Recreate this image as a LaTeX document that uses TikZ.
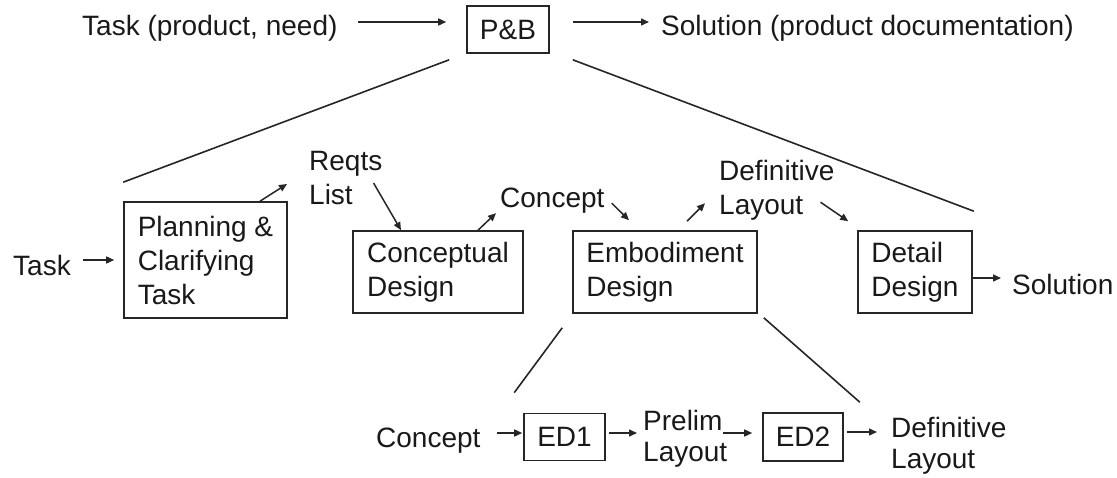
\documentclass[tikz,border=0pt]{standalone}
\usepackage{fontspec}
\setmainfont{Liberation Sans}
\usetikzlibrary{arrows.meta}
\begin{document}
\begin{tikzpicture}[x=1pt,y=-1pt,
  every node/.style={font=\fontsize{28pt}{34pt}\selectfont, text=black!90, inner sep=0pt},
  box/.style={draw=black!85, line width=1.6pt, align=left},
  txt/.style={align=left},
  bot/.style={font=\fontsize{28pt}{31pt}\selectfont},
  arr/.style={line width=1.5pt, draw=black!85, -{Triangle[length=8pt,width=7pt]}},
  ln/.style={line width=1.6pt, draw=black!85}]
\useasboundingbox (0,0) rectangle (1117,477);
% top level
\node[anchor=base west] (tTask) at (82,35) {Task (product, need)};
\node[box, minimum width=82pt, minimum height=47pt] (pb) at (508,29.5) {P\&B};
\node[anchor=base west] (tSol) at (661,35) {Solution (product documentation)};
% second level
\node[box, minimum width=163pt, minimum height=116pt] (plan) at (205.5,260) {Planning \&\\Clarifying\\Task};
\node[box, minimum width=170pt, minimum height=82pt] (concD) at (438,272) {Conceptual\\Design};
\node[box, minimum width=184pt, minimum height=82pt] (embD) at (665,272) {Embodiment\\Design};
\node[box, minimum width=114pt, minimum height=82pt] (detD) at (915,272) {Detail\\Design};
\node[anchor=base west] (tTask2) at (13,275) {Task};
\node[txt, anchor=north west] (reqts) at (309,151) {Reqts\\List};
\node[anchor=base west] (concept) at (500,207) {Concept};
\node[txt, anchor=north west] (defin) at (719,160) {Definitive\\Layout};
\node[anchor=base west] (tSol2) at (1012,294) {Solution};
% third level
\node[anchor=base west] (cBot) at (376,447) {Concept};
\node[box, minimum width=81pt, minimum height=47pt] (ed1) at (564.5,437) {ED1};
\node[txt, bot, anchor=north west] (prelim) at (643,410) {Prelim\\Layout};
\node[box, minimum width=80pt, minimum height=48pt] (ed2) at (803,437) {ED2};
\node[txt, bot, anchor=north west] (defB) at (891,417) {Definitive\\Layout};
% top connectors
\path ([yshift=7.5pt]pb.west) coordinate (pbin) ([yshift=7.5pt]pb.east) coordinate (pbout);
\draw[arr, shorten <=20pt, shorten >=20pt] (pbin -| tTask.east) -- (pbin);
\draw[arr, shorten <=23pt, shorten >=12pt] (pbout) -- (pbout -| tSol.west);
\draw[ln] ([xshift=-17pt,yshift=-6pt]pb.south west) -- ([yshift=19pt]plan.north west);
\draw[ln] ([xshift=23pt,yshift=-6pt]pb.south east) -- ([xshift=1pt,yshift=19pt]detD.north east);
% middle connectors
\draw[arr, shorten <=12pt, shorten >=9pt] (tTask2.east |- plan.west) -- (plan.west);
\draw[arr] ([xshift=54.5pt]plan.north) -- ([xshift=-22pt,yshift=-6pt]reqts.west);
\draw[arr] ([xshift=-9pt,yshift=-5pt]reqts.east) -- ([xshift=-37pt]concD.north);
\draw[arr] ([xshift=40pt]concD.north) -- ([xshift=-4pt,yshift=-13pt]concept.west);
\draw[arr] ([xshift=7pt,yshift=-3pt]concept.east) -- ([xshift=-36pt,yshift=10pt]embD.north);
\draw[arr] ([xshift=22pt,yshift=9pt]embD.north) -- ([xshift=-14pt,yshift=-13pt]defin.west);
\draw[arr] ([xshift=-14pt,yshift=-12pt]defin.east) -- ([xshift=-9pt,yshift=9pt]detD.north west);
\path ([yshift=-6pt]detD.east) coordinate (dout);
\draw[arr, shorten >=11pt] (dout) -- (dout -| tSol2.west);
% bottom connectors
\draw[ln] ([xshift=-10pt,yshift=-14pt]embD.south west) -- ([xshift=-9pt,yshift=20pt]ed1.north west);
\draw[ln] ([xshift=6pt,yshift=-4pt]embD.south east) -- ([xshift=16pt,yshift=10pt]ed2.north east);
\path ([yshift=4pt]ed1.west) coordinate (e1in) ([yshift=4pt]ed1.east) coordinate (e1out)
      ([yshift=4pt]ed2.west) coordinate (e2in) ([yshift=5pt]ed2.east) coordinate (e2out);
\draw[arr, shorten <=16pt, shorten >=1pt] (e1in -| cBot.east) -- (e1in);
\draw[arr, shorten <=3pt, shorten >=6pt] (e1out) -- (e1out -| prelim.west);
\draw[arr, shorten <=-4pt, shorten >=10pt] (e2in -| prelim.east) -- (e2in);
\draw[arr, shorten <=3pt, shorten >=14pt] (e2out) -- (e2out -| defB.west);
\end{tikzpicture}
\end{document}
